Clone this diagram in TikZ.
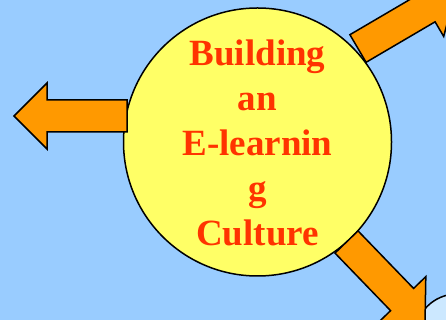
\documentclass[tikz,border=0pt]{standalone}
\usepackage{fontspec}
\setmainfont{Liberation Serif}
\definecolor{bgblue}{HTML}{99CCFF}
\definecolor{sunyellow}{HTML}{FFFF66}
\definecolor{arroworange}{HTML}{FF9900}
\definecolor{titlered}{HTML}{FF3300}
\definecolor{paleblue}{HTML}{CCE8FF}
\tikzset{
  bigarrowstyle/.style={fill=arroworange, draw=black, line width=1.5pt, line join=miter},
  bigarrow/.pic={
    \path[bigarrowstyle] (0,16) -- (80,16) -- (80,33) -- (113,0) -- (80,-33) -- (80,-16) -- (0,-16) -- cycle;
  }
}
\begin{document}
\begin{tikzpicture}[x=1pt,y=1pt]
  \useasboundingbox (0,0) rectangle (446,320);
  \clip (0,0) rectangle (446,320);
  \fill[bgblue] (0,0) rectangle (446,320);
  % partial pale circle at bottom right
  \node[circle, minimum size=84pt, fill=paleblue, draw=black, line width=1.5pt] (corner) at (457,-16) {};
  % main circle
  \node[circle, minimum size=268pt, inner sep=0pt, fill=sunyellow, draw=black, line width=1.5pt] (hub) at (257.5,178) {};
  % arrows
  \pic[rotate=180] at (127,204) {bigarrow};
  \pic[rotate=30.4] at (358,271.5) {bigarrow};
  \pic[rotate=-46] at (346.5,78) {bigarrow};
  % title
  \node[text=titlered, font=\bfseries\fontsize{37pt}{45pt}\selectfont, align=center, inner sep=0pt] (title) at ([yshift=-1pt]hub.center)
    {Building\\an\\E-learnin\\g\\Culture};
\end{tikzpicture}
\end{document}
